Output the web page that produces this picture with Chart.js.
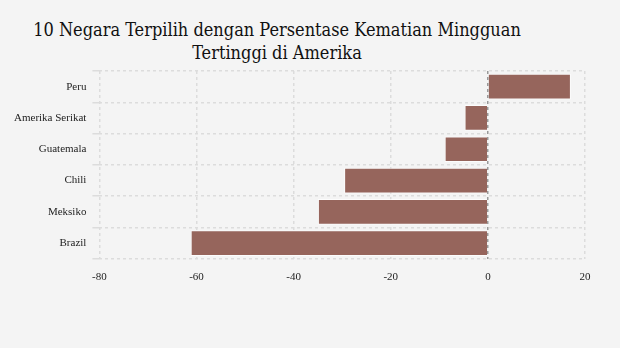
<!DOCTYPE html>
<html><head><meta charset="utf-8">
<script src="https://cdn.jsdelivr.net/npm/chart.js@4"></script>
<style>
html,body{margin:0;padding:0;background:#f4f4f4;}
#wrap{position:relative;width:620px;height:348px;}
#title{position:absolute;left:0;top:18px;width:554px;text-align:center;font-family:"DejaVu Serif",serif;font-stretch:condensed;font-size:18px;line-height:23px;color:#111;}
canvas{position:absolute;left:0;top:0;}
</style></head><body>
<div id="wrap">
<div id="title">10 Negara Terpilih dengan Persentase Kematian Mingguan<br>Tertinggi di Amerika</div>
<canvas id="c" width="620" height="348"></canvas>
</div>
<script>
const categories = ["Peru","Amerika Serikat","Guatemala","Chili","Meksiko","Brazil"];
const values = [17.1, -4.8, -8.9, -29.6, -35.0, -61.2];
const xTicks = [-80,-60,-40,-20,0,20];

new Chart(document.getElementById('c'), {
  type: 'bar',
  data: { labels: categories, datasets: [{ data: values, backgroundColor: '#96655c', borderColor: 'rgba(255,255,255,0.7)', borderWidth: 1, barPercentage: 0.82, categoryPercentage: 1 }] },
  options: {
    indexAxis: 'y', responsive: false, animation: false,
    layout: { padding: { top: 71, left: 8, right: 35, bottom: 52 } },
    plugins: { legend: { display: false }, title: { display: false }, tooltip: { enabled: false } },
    scales: {
      x: { min: -80, max: 20, afterBuildTicks: s => { s.ticks = xTicks.map(v => ({value: v})); },
        ticks: { color: '#222', font: { family: 'Liberation Serif', size: 11 }, padding: 12 },
        grid: { color: ctx => ctx.tick && ctx.tick.value === 0 ? '#999' : '#dcdcdc', lineWidth: 1.5, drawTicks: false },
        border: { display: false, dash: [3, 3] } },
      y: { ticks: { color: '#222', font: { family: 'Liberation Serif', size: 11 }, padding: 6 },
        grid: { color: '#dcdcdc', lineWidth: 1.5, tickLength: 7, tickColor: '#dcdcdc', tickBorderDash: [] },
        border: { display: false, dash: [3, 3] } }
    }
  }
});
</script></body></html>
